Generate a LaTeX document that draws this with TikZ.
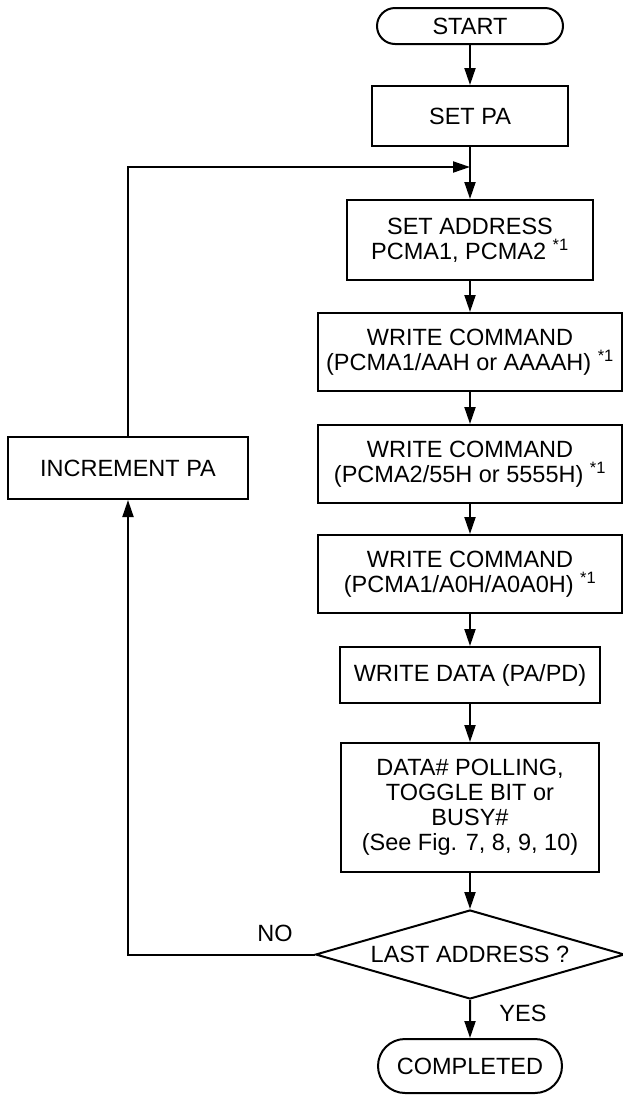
\documentclass[tikz,border=0pt]{standalone}
\usepackage{fontspec}
\setmainfont{Liberation Sans}
\usetikzlibrary{arrows.meta,shapes.geometric,shapes.misc}
\begin{document}
\begin{tikzpicture}[x=1pt,y=-1pt,
  every node/.style={font=\fontsize{23.5}{25}\selectfont, inner sep=0pt, align=center},
  box/.style={draw, line width=2pt, rectangle},
  term/.style={draw, line width=2pt, rounded rectangle},
  dec/.style={draw, line width=2pt, diamond, aspect=3.47},
  conn/.style={line width=2pt, -{Triangle[length=17pt,width=11pt]}},
  lbl/.style={}
]
\useasboundingbox (0,0) rectangle (623,1096);
\node[term, minimum width=186pt, minimum height=36pt] (start) at (470,26) {START};
\node[box, minimum width=196pt, minimum height=60pt] (setpa) at (470,116) {SET PA};
\node[box, minimum width=246pt, minimum height=80pt] (setaddr) at (470,240) {SET ADDRESS\\PCMA1, PCMA2 \textsuperscript{*1}};
\node[box, minimum width=304pt, minimum height=78pt] (wc1) at (470,352) {WRITE COMMAND\\(PCMA1/AAH or AAAAH) \textsuperscript{*1}};
\node[box, minimum width=304pt, minimum height=78pt] (wc2) at (470,464) {WRITE COMMAND\\(PCMA2/55H or 5555H) \textsuperscript{*1}};
\node[box, minimum width=304pt, minimum height=78pt] (wc3) at (470,574) {WRITE COMMAND\\(PCMA1/A0H/A0A0H) \textsuperscript{*1}};
\node[box, minimum width=260pt, minimum height=56pt] (wdata) at (470,675) {WRITE DATA (PA/PD)};
\node[box, minimum width=258pt, minimum height=129pt] (poll) at (470,807.5) {DATA\# POLLING,\\TOGGLE BIT or\\BUSY\#\\(See Fig. 7, 8, 9, 10)};
\node[dec, minimum width=309pt, minimum height=89pt] (last) at (470,954.5) {LAST ADDRESS ?};
\node[term, minimum width=184pt, minimum height=54pt] (done) at (470,1066) {COMPLETED};
\node[box, minimum width=240pt, minimum height=62pt] (incr) at (128,468) {INCREMENT PA};
\coordinate (j) at (470,167);
\node[lbl] (no) at (275,933) {NO};
\node[lbl] (yes) at (523,1013) {YES};
\draw[conn] (start) -- (setpa);
\draw[conn] (setpa) -- (setaddr);
\draw[conn] (setaddr) -- (wc1);
\draw[conn] (wc1) -- (wc2);
\draw[conn] (wc2) -- (wc3);
\draw[conn] (wc3) -- (wdata);
\draw[conn] (wdata) -- (poll);
\draw[conn] (poll) -- (last);
\draw[conn] (last) -- (done);
\draw[conn] (last.west) -| (incr.south);
\draw[conn] (incr.north) |- (j);
\end{tikzpicture}
\end{document}
